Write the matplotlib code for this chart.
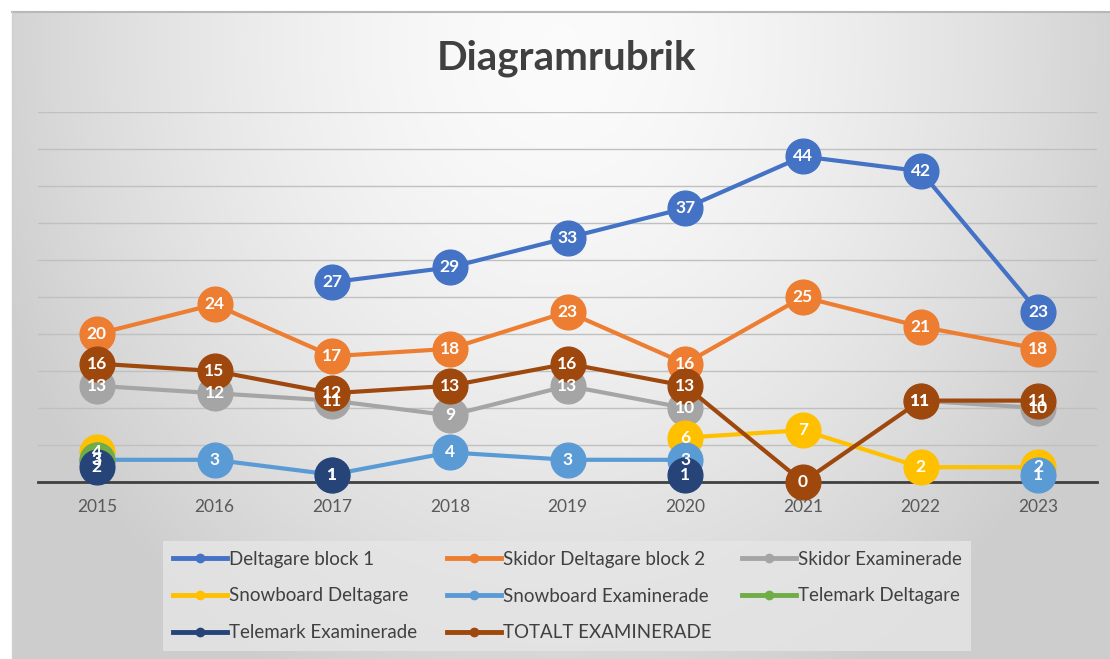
import numpy as np
import matplotlib.pyplot as plt
from matplotlib.lines import Line2D

nan = np.nan
years = ["2015", "2016", "2017", "2018", "2019", "2020", "2021", "2022", "2023"]

deltagare_block1 = [nan, nan, 27, 29, 33, 37, 44, 42, 23]
skidor_deltagare_block2 = [20, 24, 17, 18, 23, 16, 25, 21, 18]
skidor_examinerade = [13, 12, 11, 9, 13, 10, nan, 11, 10]
snowboard_deltagare = [4, nan, nan, nan, nan, 6, 7, 2, 2]
snowboard_examinerade = [3, 3, 1, 4, 3, 3, nan, nan, 1]
telemark_deltagare = [3, nan, nan, nan, nan, nan, nan, nan, nan]
telemark_examinerade = [2, nan, 1, nan, nan, 1, nan, nan, nan]
totalt_examinerade = [16, 15, 12, 13, 16, 13, 0, 11, 11]

series = [
    ("Deltagare block 1", deltagare_block1, "#4472C4"),
    ("Skidor Deltagare block 2", skidor_deltagare_block2, "#ED7D31"),
    ("Skidor Examinerade", skidor_examinerade, "#A5A5A5"),
    ("Snowboard Deltagare", snowboard_deltagare, "#FFC000"),
    ("Snowboard Examinerade", snowboard_examinerade, "#5B9BD5"),
    ("Telemark Deltagare", telemark_deltagare, "#70AD47"),
    ("Telemark Examinerade", telemark_examinerade, "#264478"),
    ("TOTALT EXAMINERADE", totalt_examinerade, "#9E480E"),
]

plt.rcParams['font.family'] = ['Lato', 'DejaVu Sans']

fig = plt.figure(figsize=(11.1, 6.59), dpi=100, facecolor="white")

# gradient background
bg = fig.add_axes([12 / 1110, 0, 1 - 12 / 1110, 1 - 12 / 659], zorder=-5)
gx, gy = np.meshgrid(np.linspace(-1, 1, 400), np.linspace(0, 1, 300))
r = np.sqrt((gx / 1.1) ** 2 + ((gy - 0.05) / 1.1) ** 2)
r = np.clip(r, 0, 1)
shade = 0.985 - 0.18 * r ** 1.6
bg.imshow(np.dstack([shade] * 3), aspect="auto", extent=[0, 1, 0, 1], origin="upper")
bg.set_xlim(0, 1)
bg.set_ylim(0, 1)
bg.axis("off")
fig.add_artist(plt.Line2D([12 / 1110, 1], [1 - 12 / 659] * 2, color="#b8b8b8", lw=1.5))
fig.add_artist(plt.Line2D([12 / 1110] * 2, [0, 1 - 12 / 659], color="#d0d0d0", lw=1))

ax = fig.add_axes([38 / 1110, 1 - 482 / 659, 1059 / 1110, 370 / 659])
ax.patch.set_alpha(0)
x = np.arange(len(years))

for name, vals, col in series:
    ax.plot(x, vals, color=col, lw=3, marker="o", markersize=25, clip_on=False, zorder=3)

for name, vals, col in series:
    for xi, v in zip(x, vals):
        if not np.isnan(v):
            ax.text(xi, v, str(int(v)), ha="center", va="center", color="white",
                    fontsize=12.5, fontweight="bold", zorder=10)

ax.set_xlim(-0.5, len(years) - 0.5)
ax.set_ylim(0, 50)
ax.set_yticks(np.arange(0, 51, 5))
ax.set_yticklabels([])
ax.tick_params(axis="y", length=0)
ax.grid(axis="y", color="#c0c0c0", lw=1)
ax.set_axisbelow(True)
for s in ["top", "left", "right"]:
    ax.spines[s].set_visible(False)
ax.spines["bottom"].set_color("#404040")
ax.spines["bottom"].set_linewidth(2)
ax.spines["bottom"].set_zorder(2)
ax.set_xticks(x)
ax.set_xticklabels(years, fontsize=12.5, color="#595959")
ax.tick_params(axis="x", length=0, pad=12)

fig.text(0.51, 1 - 58 / 659, "Diagramrubrik", ha="center", va="center",
         fontsize=29, fontweight="bold", color="#404040")

# row-wise legend order (matplotlib fills columns first)
order = [0, 3, 6, 1, 4, 7, 2, 5]
handles = [Line2D([0], [0], color=series[i][2], lw=3.5, marker="o", markersize=6) for i in order]
labels = [series[i][0] for i in order]
leg = fig.legend(handles, labels, loc="center", bbox_to_anchor=(0.511, 1 - 596 / 659), ncol=3,
                 fontsize=13.5, frameon=True, fancybox=False, handlelength=2.9, handletextpad=0.1,
                 columnspacing=1.6, labelspacing=1.05, borderpad=0.5)
leg.get_frame().set_facecolor("#e6e6e6")
leg.get_frame().set_edgecolor("none")
for t in leg.get_texts():
    t.set_color("#404040")

fig.savefig("out.png", dpi=100)
